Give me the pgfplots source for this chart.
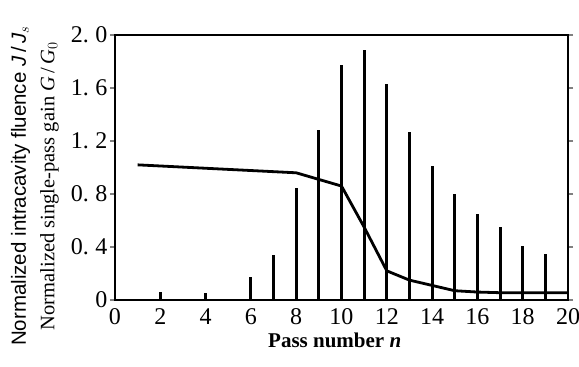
\documentclass[border=0pt]{standalone}
\usepackage{fontspec}
\setmainfont{Liberation Serif}
\setsansfont{Liberation Sans}
\usepackage{pgfplots}
\pgfplotsset{compat=1.18}
\begin{document}
\begin{tikzpicture}
\begin{axis}[
  at={(0,0)}, anchor=south west,
  scale only axis, width=453pt, height=265pt,
  xmin=0, xmax=20, ymin=0, ymax=2.0,
  axis line style={line width=2.2pt},
  xtick={0,2,...,20},
  xtick style={draw=none},
  ytick={0,0.4,0.8,1.2,1.6,2.0},
  yticklabels={0,0.\;4,0.\;8,1.\;2,1.\;6,2.\;0},
  ytick style={line width=1.8pt},
  tick align=outside,
  major tick length=5pt,
  tick label style={font=\fontsize{24}{27}\selectfont},
  xticklabel style={yshift=0pt},
  yticklabel style={xshift=1pt},
  /pgf/number format/assume math mode=true,
  xlabel={Pass number \textit{n}},
  xlabel style={font=\fontsize{21}{24}\selectfont\bfseries, at={(axis description cs:0.485,0)}, anchor=north, yshift=-29pt},
  ylabel={\fontsize{20.5}{24}\selectfont\sffamily Normalized intracavity fluence \textit{J}\,/\,\textit{J}$_s$\\[9pt]
          \fontsize{20.5}{24}\selectfont Normalized single-pass gain \textit{G}\,/\,\textit{G}$_0$},
  ylabel style={align=center, at={(axis description cs:-0.177,0.43)}, anchor=center, rotate=0},
  clip=false,
]
\addplot[ycomb, line width=3pt, black] coordinates {
  (2,0.06) (4,0.05) (6,0.17) (7,0.34) (8,0.845) (9,1.28) (10,1.77)
  (11,1.89) (12,1.63) (13,1.27) (14,1.01) (15,0.80) (16,0.65)
  (17,0.55) (18,0.41) (19,0.35)
};
\addplot[line width=2.8pt, black, mark=none] coordinates {
  (1,1.02) (8,0.96) (9,0.91) (10,0.86) (11,0.55) (12,0.22) (13,0.15)
  (14,0.11) (15,0.07) (16,0.06) (17,0.055) (18,0.055) (19,0.055) (20,0.055)
};
\end{axis}
\pgfresetboundingbox
\path[use as bounding box] (-115pt,-67pt) rectangle (464pt,300pt);
\end{tikzpicture}
\end{document}
